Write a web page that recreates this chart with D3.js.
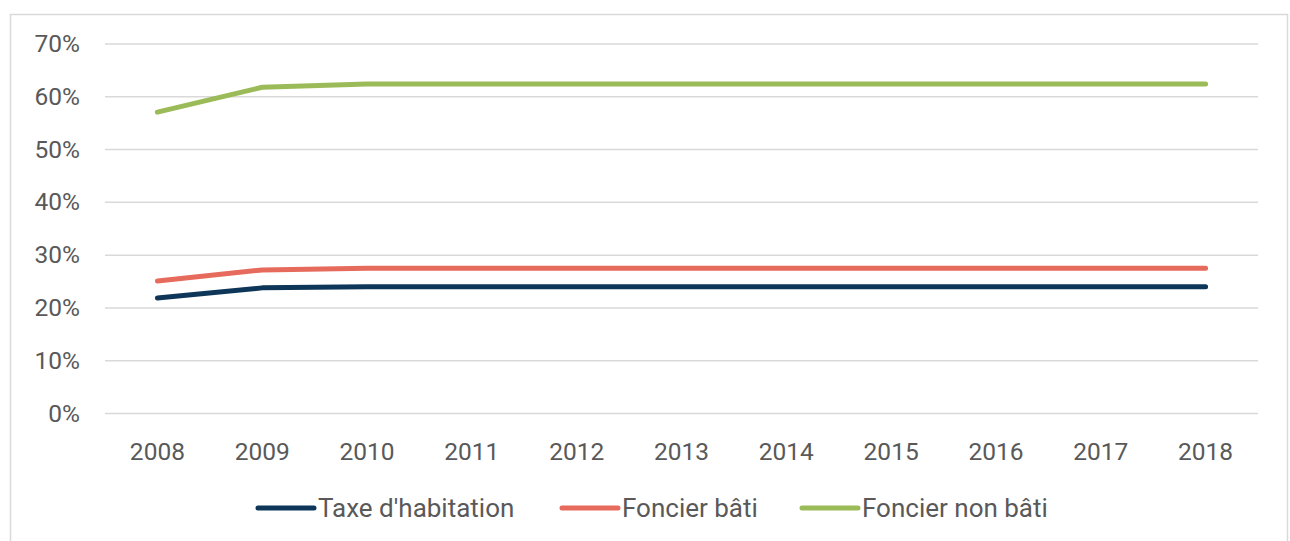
<!DOCTYPE html>
<html lang="fr">
  <head>
    <meta charset="UTF-8" />
    <title>Taux</title>
    <script src="https://cdn.jsdelivr.net/npm/d3@7"></script>
    <style>
      body { margin: 0; background: #fff; }
      text { font-family: Roboto, sans-serif; fill: #595959; }
    </style>
  </head>
  <body>
    <script>
      var years = [2008, 2009, 2010, 2011, 2012, 2013, 2014, 2015, 2016, 2017, 2018];
      var taxeHabitation = [21.9, 23.8, 24.0, 24.0, 24.0, 24.0, 24.0, 24.0, 24.0, 24.0, 24.0];
      var foncierBati = [25.1, 27.2, 27.5, 27.5, 27.5, 27.5, 27.5, 27.5, 27.5, 27.5, 27.5];
      var foncierNonBati = [57.1, 61.8, 62.4, 62.4, 62.4, 62.4, 62.4, 62.4, 62.4, 62.4, 62.4];
      var yTicks = [0, 10, 20, 30, 40, 50, 60, 70];

      var series = [
        { name: "Taxe d'habitation", values: taxeHabitation, color: "#0d3659" },
        { name: "Foncier bâti", values: foncierBati, color: "#e76b5c" },
        { name: "Foncier non bâti", values: foncierNonBati, color: "#9bbb59" }
      ];

      var svg = d3.select("body").append("svg")
        .attr("width", 1290)
        .attr("height", 541);

      // cadre
      svg.append("rect")
        .attr("x", 10.5).attr("y", 14.5)
        .attr("width", 1277).attr("height", 540)
        .attr("fill", "none")
        .attr("stroke", "#d9d9d9")
        .attr("stroke-width", 1.5);

      var x = d3.scalePoint().domain(years).range([105, 1258]).padding(0.5);
      var y = d3.scaleLinear().domain([0, 70]).range([413.5, 44]);

      svg.append("g").selectAll("line").data(yTicks).enter().append("line")
        .attr("x1", 105).attr("x2", 1258)
        .attr("y1", function (d) { return y(d); })
        .attr("y2", function (d) { return y(d); })
        .attr("stroke", "#d9d9d9")
        .attr("stroke-width", 1.5);

      svg.append("g").selectAll("text").data(yTicks).enter().append("text")
        .attr("x", 80)
        .attr("y", function (d) { return y(d) + 8; })
        .attr("text-anchor", "end")
        .attr("font-size", 24.5)
        .text(function (d) { return d + "%"; });

      svg.append("g").selectAll("text").data(years).enter().append("text")
        .attr("x", function (d) { return x(d); })
        .attr("y", 460)
        .attr("text-anchor", "middle")
        .attr("font-size", 24.5)
        .text(function (d) { return d; });

      var line = d3.line()
        .x(function (d, i) { return x(years[i]); })
        .y(function (d) { return y(d); });

      svg.append("g").selectAll("path").data(series).enter().append("path")
        .attr("d", function (d) { return line(d.values); })
        .attr("fill", "none")
        .attr("stroke", function (d) { return d.color; })
        .attr("stroke-width", 5)
        .attr("stroke-linecap", "round")
        .attr("stroke-linejoin", "round");

      // légende
      var legendX = [258, 562, 802];
      var legend = svg.append("g").selectAll("g").data(series).enter().append("g")
        .attr("transform", function (d, i) { return "translate(" + legendX[i] + ",508)"; });
      legend.append("line")
        .attr("x1", 0).attr("x2", 56)
        .attr("stroke", function (d) { return d.color; })
        .attr("stroke-width", 5)
        .attr("stroke-linecap", "round");
      legend.append("text")
        .attr("x", 60)
        .attr("y", 9)
        .attr("font-size", 26)
        .text(function (d) { return d.name; });
    </script>
  </body>
</html>
